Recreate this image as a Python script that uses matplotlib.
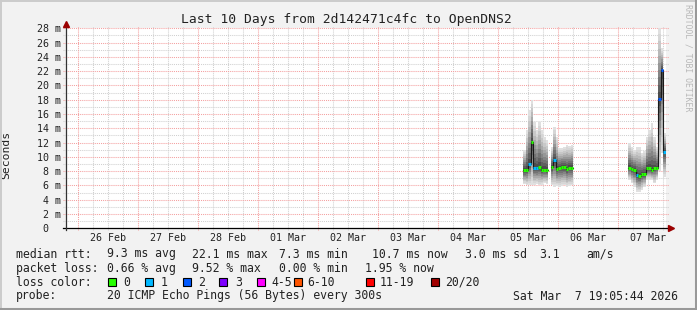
import numpy as np
import pandas as pd
import matplotlib
matplotlib.use("Agg")
import matplotlib.pyplot as plt
import matplotlib.dates as mdates
from matplotlib.lines import Line2D
from matplotlib.patches import Rectangle

plt.rcParams['font.family'] = 'DejaVu Sans Mono'

# ---- data (hourly consolidated steps, ms) ----
end_time = pd.Timestamp('2026-03-07 19:05:44')
start_time = end_time - pd.Timedelta(days=10)

w1_start = '2026-03-05 10:00'
w1_med = [8.1, 8.2, 9.0, 12.1, 8.5, 8.4, 8.6, 8.2, 8.2, 8.2]
w1_lo = [6.2, 6.0, 6.1, 6.0, 6.1, 6.2, 6.0, 6.1, 6.3, 6.2]
w1_hi = [11.0, 13.7, 16.5, 18.0, 14.9, 13.8, 14.9, 13.8, 12.8, 12.4]
w1_loss = [0, 0, 1, 0, 1, 1, 0, 0, 0, 0]

w2_start = '2026-03-05 21:00'
w2_med = [8.6, 9.5, 8.3, 8.5, 8.6, 8.6, 8.3, 8.5, 8.5]
w2_lo = [6.0, 5.8, 5.9, 5.8, 5.9, 6.0, 5.8, 5.9, 6.0]
w2_hi = [11.4, 14.2, 12.8, 11.2, 11.2, 11.4, 11.7, 11.5, 11.7]
w2_loss = [0, 1, 0, 0, 0, 0, 0, 0, 0]

w3_start = '2026-03-07 04:00'
w3_med = [8.5, 8.3, 8.2, 7.5, 7.3, 7.6, 7.6, 8.4, 8.4, 8.2, 8.5, 8.5, 18.1, 22.1, 10.7]
w3_lo = [6.8, 6.3, 5.8, 5.1, 5.1, 5.4, 5.8, 6.8, 6.8, 6.8, 6.3, 6.8, 8.0, 10.5, 7.2]
w3_hi = [11.9, 11.4, 11.0, 11.4, 11.4, 10.5, 10.8, 12.8, 13.8, 14.7, 12.8, 11.4, 28.2, 25.2, 13.3]
w3_loss = [0, 0, 0, 1, 0, 0, 0, 0, 0, 0, 0, 0, 2, 2, 1]

loss_labels = ['0', '1', '2', '3', '4-5', '6-10', '11-19', '20/20']
loss_palette = ['#26ff00', '#00b8ff', '#0059ff', '#7e00ff',
                '#ff00ff', '#ff5500', '#ff0000', '#a10000']


def loss_index(n):
    if n <= 3:
        return n
    if n <= 5:
        return 4
    if n <= 10:
        return 5
    if n <= 19:
        return 6
    return 7


W, H = 697, 310
fig = plt.figure(figsize=(W / 100, H / 100), dpi=100, facecolor='#f2f2f2')
ax = fig.add_axes([66 / W, (H - 228.3) / H, 600 / W, 200 / H])
ax.set_facecolor('white')
ax.set_xlim(mdates.date2num(start_time), mdates.date2num(end_time))
ax.set_ylim(0, 28)
for s in ax.spines.values():
    s.set_visible(False)

# ---- grid ----
gray = '#d0d0d0'
red = '#f4a0a0'
dots = (0, (1, 1))
days = pd.date_range('2026-02-26', '2026-03-07', freq='D')
quarters = pd.date_range('2026-02-25 12:00', '2026-03-07 18:00', freq='6h')
for q in quarters:
    if q < start_time or q.hour == 0:
        continue
    ax.axvline(mdates.date2num(q), ymin=-0.01, ymax=1.01, color=gray, lw=0.75,
               ls=dots, zorder=0.5, clip_on=False)
for d in days:
    ax.axvline(mdates.date2num(d), ymin=-0.01, ymax=1.01, color=red, lw=0.75,
               ls=dots, zorder=0.6, clip_on=False)
for yv in range(1, 29):
    ax.axhline(yv, xmin=-0.005, xmax=1.005, color=red if yv % 2 == 0 else gray,
               lw=0.75, ls=dots, zorder=0.5 if yv % 2 else 0.6, clip_on=False)

# ---- smoke + median ----
nb = 10
windows = [(w1_start, w1_med, w1_lo, w1_hi, w1_loss),
           (w2_start, w2_med, w2_lo, w2_hi, w2_loss),
           (w3_start, w3_med, w3_lo, w3_hi, w3_loss)]
for start, med, lo, hi, loss in windows:
    t = pd.date_range(start, periods=len(med), freq='h')
    edges = mdates.date2num(list(t) + [t[-1] + pd.Timedelta(hours=1)])
    med_a, lo_a, hi_a = np.array(med), np.array(lo), np.array(hi)
    for k in range(nb):
        f = k / nb
        lower = lo_a + (med_a - lo_a) * f
        upper = hi_a - (hi_a - med_a) * f
        g = 0.88 - 0.58 * (k / (nb - 1)) ** 1.2
        ax.fill_between(edges, np.append(lower, lower[-1]), np.append(upper, upper[-1]),
                        step='post', color=(g, g, g), lw=0, zorder=1 + k * 0.01)
    ax.step(edges, np.append(med_a, med_a[-1]), where='post', color='#1a1a1a',
            lw=0.8, zorder=3)
    ax.hlines(med_a, edges[:-1], edges[1:],
              colors=[loss_palette[loss_index(n)] for n in loss], lw=2.2, zorder=4)

# ---- axes lines and arrows ----
axis_col = '#333333'
ax.plot([-0.005, 1.004], [0, 0], transform=ax.transAxes, color='black', lw=0.9,
        clip_on=False, zorder=5)
ax.plot([0, 0], [-0.01, 1.02], transform=ax.transAxes, color=axis_col, lw=0.9,
        clip_on=False, zorder=5)
ax.plot([0], [1.022], marker='^', ms=4.5, color='#9b0000', mec='#9b0000',
        transform=ax.transAxes, clip_on=False, zorder=6)
ax.plot([1.0085], [0], marker='>', ms=4.5, color='#9b0000', mec='#9b0000',
        transform=ax.transAxes, clip_on=False, zorder=6)

# ---- ticks ----
noons = pd.date_range('2026-02-26 12:00', '2026-03-07 12:00', freq='D')
ax.set_xticks(mdates.date2num(noons))
ax.set_xticklabels([n.strftime('%d %b') for n in noons])
ytv = list(range(0, 29, 2))
ax.set_yticks(ytv)
ax.set_yticklabels(['0  ' if v == 0 else f'{v} m' for v in ytv])
ax.tick_params(axis='x', length=0, pad=3.5, labelsize=7.2, colors='#222222')
ax.tick_params(axis='y', length=0, pad=3.6, labelsize=7.2, colors='#222222')

ax.set_ylabel('Seconds', fontsize=8.2, color='#222222')
ax.yaxis.set_label_coords(11 / W, 0.5, transform=fig.transFigure)

# ---- title and watermark ----
fig.text(346 / W, 1 - 19.5 / H, 'Last 10 Days from 2d142471c4fc to OpenDNS2',
         ha='center', va='center', fontsize=9.4, color='#222222')
fig.text(688 / W, 1 - 4 / H, 'RRDTOOL / TOBI OETIKER', rotation=270,
         ha='center', va='top', fontsize=5.9, color='#b8b8b8')

# ---- legend lines ----
fs = 8.3
tc = '#222222'


def line(x, y, s):
    fig.text(x / W, 1 - y / H, s, ha='left', va='center', fontsize=fs, color=tc)


y1, y2, y3, y4 = 254, 268.3, 282.3, 296
line(16, y1, 'median rtt:')
line(107, y1, '9.3 ms avg')
line(192, y1, '22.1 ms max')
line(279, y1, '7.3 ms min')
line(372, y1, '10.7 ms now')
line(465, y1, '3.0 ms sd')
line(539, y1, '3.1')
line(586, y1, 'am/s')

line(16, y2, 'packet loss:')
line(107, y2, '0.66 % avg')
line(192, y2, '9.52 % max')
line(279, y2, '0.00 % min')
line(365, y2, '1.95 % now')

line(16, y3, 'loss color:')
box_x = [108, 145, 183, 219, 257, 294, 366, 431]
lab_x = [123, 160.5, 198, 235, 271.5, 307.5, 380, 445]
for bx, lx, lab, col in zip(box_x, lab_x, loss_labels, loss_palette):
    fig.add_artist(Rectangle((bx / W, 1 - (y3 + 4) / H), 8 / W, 8 / H,
                             transform=fig.transFigure, facecolor=col,
                             edgecolor='black', lw=0.8))
    line(lx, y3, lab)

line(16, y4, 'probe:')
line(107, y4, '20 ICMP Echo Pings (56 Bytes) every 300s')
line(513, y4, 'Sat Mar  7 19:05:44 2026')

# ---- frame ----
fig.add_artist(Line2D([0, 1], [1 - 0.5 / H, 1 - 0.5 / H], transform=fig.transFigure,
                      color='#cbcbcb', lw=1.4))
fig.add_artist(Line2D([0.5 / W, 0.5 / W], [0, 1], transform=fig.transFigure,
                      color='#cbcbcb', lw=1.4))
fig.add_artist(Line2D([0, 1], [1 / H, 1 / H], transform=fig.transFigure,
                      color='#999999', lw=2.2))
fig.add_artist(Line2D([1 - 1 / W, 1 - 1 / W], [0, 1], transform=fig.transFigure,
                      color='#999999', lw=2.2))

fig.savefig('out.png', dpi=100, facecolor=fig.get_facecolor())
